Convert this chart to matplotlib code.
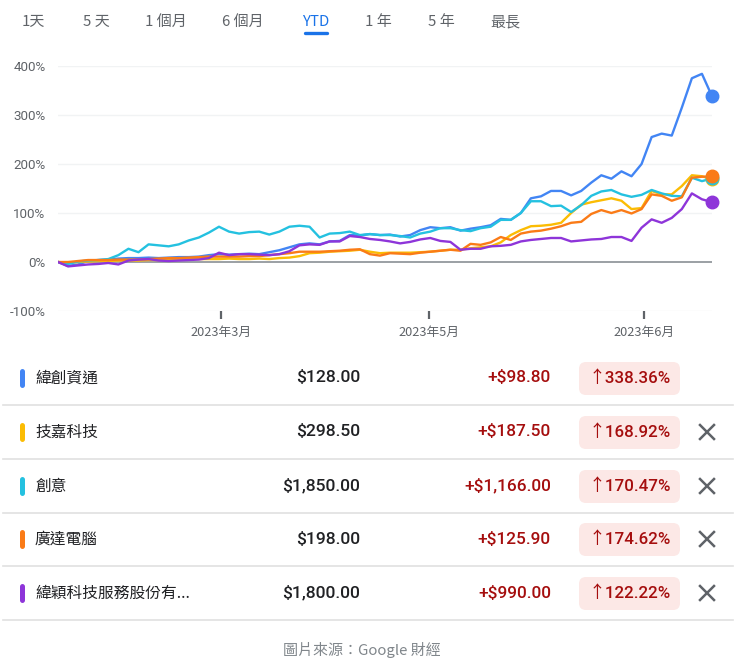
import matplotlib
matplotlib.use("Agg")
import matplotlib.pyplot as plt
from matplotlib.patches import FancyBboxPatch
from matplotlib.lines import Line2D

# ---------------- data ----------------
tabs = ["1天", "5 天", "1 個月", "6 個月", "YTD", "1 年", "5 年", "最長"]
active_tab = "YTD"

names = ["緯創資通", "技嘉科技", "創意", "廣達電腦", "緯穎科技服務股份有..."]
prices = ["$128.00", "$298.50", "$1,850.00", "$198.00", "$1,800.00"]
changes = ["+$98.80", "+$187.50", "+$1,166.00", "+$125.90", "+$990.00"]
pcts = ["338.36%", "168.92%", "170.47%", "174.62%", "122.22%"]
colors = ["#4285F4", "#FBBC04", "#24C1E0", "#FA7B17", "#8E35D9"]

yticks = [-100, 0, 100, 200, 300, 400]
ytick_labels = ["-100%", "0%", "100%", "200%", "300%", "400%"]
xtick_pos = [16.2, 36.9, 58.2]
xtick_labels = ["2023年3月", "2023年5月", "2023年6月"]

blue = [0, -8, -5, 2, 4, 5, 7, 8, 8, 9, 8, 9, 10, 10, 11, 14, 16, 15, 16, 17,
        16, 20, 24, 30, 36, 38, 36, 42, 43, 55, 54, 57, 55, 56, 52, 55, 65, 71, 69, 71,
        64, 68, 71, 75, 88, 86, 100, 130, 134, 145, 145, 136, 145, 162, 177, 170, 185, 175, 200, 255,
        262, 258, 315, 375, 384, 338.36]
yellow = [0, -2, 0, 1, 2, 2, 3, 3, 3, 4, 4, 5, 5, 6, 6, 6, 6, 7, 6, 6,
          7, 6, 8, 9, 12, 18, 19, 21, 22, 23, 25, 21, 18, 19, 19, 19, 20, 21, 23, 25,
          25, 28, 30, 32, 40, 55, 65, 73, 74, 76, 80, 100, 117, 122, 126, 130, 125, 108, 110, 145,
          138, 138, 155, 177, 175, 168.92]
cyan = [0, -4, 1, 3, 4, 6, 14, 27, 20, 36, 34, 32, 36, 44, 50, 60, 72, 62, 58, 61,
        62, 56, 62, 72, 74, 72, 50, 58, 59, 62, 55, 57, 55, 55, 53, 50, 58, 62, 69, 69,
        65, 63, 69, 72, 86, 86, 100, 124, 124, 114, 115, 102, 116, 135, 144, 147, 138, 133, 137, 147,
        140, 135, 134, 172, 165, 170.47]
orange = [0, 0, 2, 4, 4, 4, 5, 5, 5, 6, 7, 8, 8, 9, 10, 11, 11, 11, 11, 12,
          12, 14, 16, 18, 21, 21, 21, 22, 23, 25, 26, 16, 13, 18, 17, 16, 19, 21, 23, 25,
          23, 37, 35, 40, 51, 45, 58, 62, 64, 68, 73, 80, 82, 98, 106, 100, 106, 99, 108, 138,
          135, 125, 132, 172, 174, 174.62]
purple = [0, -9, -7, -5, -4, -2, -5, 3, 5, 6, 3, 2, 3, 4, 5, 8, 19, 14, 16, 16,
          15, 14, 16, 22, 34, 36, 35, 42, 42, 53, 51, 47, 45, 42, 38, 41, 46, 49, 43, 41,
          25, 27, 27, 32, 33, 35, 42, 45, 47, 49, 49, 42, 44, 46, 47, 51, 51, 43, 70, 87,
          80, 90, 108, 140, 128, 122.22]
series = [blue, yellow, cyan, orange, purple]

# ---------------- figure ----------------
W, H = 740, 665
fig = plt.figure(figsize=(W / 100, H / 100), dpi=100)
fig.patch.set_facecolor("white")

CJK = ["Noto Sans CJK TC", "DejaVu Sans"]
NUM = ["Roboto", "Noto Sans CJK TC", "DejaVu Sans"]

ov = fig.add_axes([0, 0, 1, 1])
ov.set_xlim(0, W)
ov.set_ylim(H, 0)
ov.axis("off")

# tabs
tab_x = [33, 96, 166, 243, 316, 378, 441, 505]
for t, x in zip(tabs, tab_x):
    active = (t == active_tab)
    ov.text(x, 22, t, ha="center", va="center", fontsize=10.8,
            color="#1a73e8" if active else "#5f6368", family=CJK)
    if active:
        ov.add_line(Line2D([x - 11, x + 11], [33, 33], color="#1a73e8", lw=2.4,
                           solid_capstyle="round"))

# table rows
row_y = [378, 432, 486, 539, 593]
sep_y = [405, 459, 513, 566, 620]
for i in range(len(names)):
    y = row_y[i]
    ov.add_line(Line2D([22, 22], [y - 7, y + 7], color=colors[i], lw=3.6,
                       solid_capstyle="round"))
    ov.text(35, y, names[i], ha="left", va="center", fontsize=11.3,
            color="#202124", family=CJK, fontweight="medium")
    ov.text(360, y, prices[i], ha="right", va="center", fontsize=12.6,
            color="#202124", family=NUM, fontweight="medium")
    ov.text(551, y, changes[i], ha="right", va="center", fontsize=12.4,
            color="#a50e0e", family=NUM, fontweight="medium")
    ov.add_patch(FancyBboxPatch((579, y - 16), 101, 33,
                                boxstyle="round,pad=0,rounding_size=7",
                                fc="#fce8e6", ec="none"))
    ov.text(630, y, "↑" + pcts[i], ha="center", va="center", fontsize=12.2,
            color="#a50e0e", family=NUM, fontweight="medium")
    if i > 0:
        ov.add_line(Line2D([700, 714], [y - 7, y + 7], color="#5f6368", lw=1.8))
        ov.add_line(Line2D([700, 714], [y + 7, y - 7], color="#5f6368", lw=1.8))
    ov.add_line(Line2D([3, 733], [sep_y[i], sep_y[i]], color="#e0e0e0", lw=1.2))

ov.text(362, 650, "圖片來源：Google 財經", ha="center", va="center",
        fontsize=10.8, color="#80868b", family=CJK)

# ---------------- chart ----------------
left, right, top, bottom = 58, 712, 66, 311
ax = fig.add_axes([left / W, 1 - bottom / H, (right - left) / W, (bottom - top) / H])
ax.set_facecolor("none")
n = len(blue)
ax.set_xlim(0, n - 1)
ax.set_ylim(-100, 400)
for s in ax.spines.values():
    s.set_visible(False)
for v in yticks:
    if v == 0:
        ax.axhline(v, color="#80868b", lw=1.1, zorder=1)
    else:
        ax.axhline(v, color="#f1f3f4", lw=1.0, zorder=0)

xs = list(range(n))
for s, c in zip(series, colors):
    ax.plot(xs, s, color=c, lw=1.7, zorder=3, solid_joinstyle="round")
    ax.plot([xs[-1]], [s[-1]], "o", color=c, ms=9, zorder=4, clip_on=False)

ax.set_yticks(yticks)
ax.set_yticklabels(ytick_labels, family=NUM, fontsize=9.6, color="#5f6368")
ax.tick_params(axis="y", length=0, pad=9)
ax.set_xticks(xtick_pos)
ax.set_xticklabels(xtick_labels, family=CJK, fontsize=9.2, color="#5f6368")
ax.tick_params(axis="x", length=6, width=1.6, color="#5f6368", pad=5, direction="out")

fig.savefig("out.png", dpi=100, facecolor="white")
